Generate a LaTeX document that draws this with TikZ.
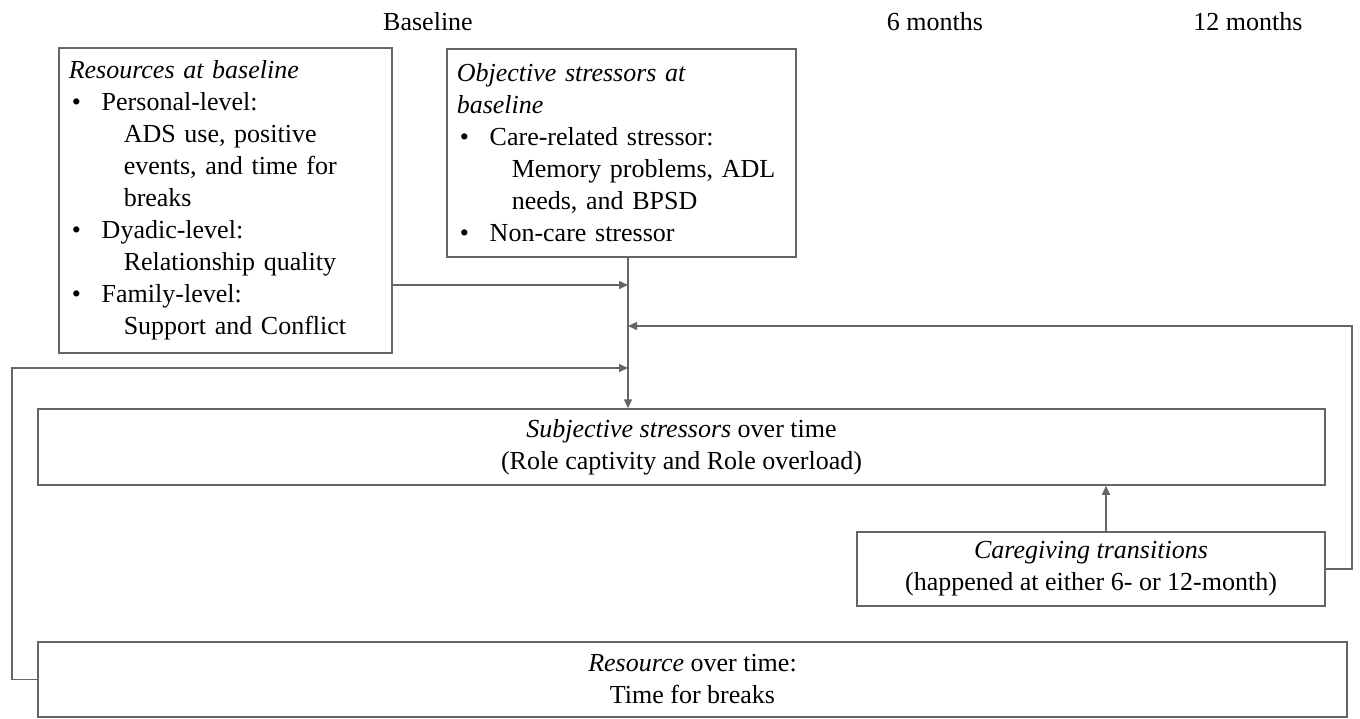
\documentclass[tikz,border=0pt]{standalone}
\usepackage{fontspec}
\setmainfont{Liberation Serif}
\usetikzlibrary{arrows.meta}

\definecolor{linegray}{HTML}{666666}
\newcommand{\bulline}[1]{\hspace*{3pt}\makebox[30pt][l]{\textbullet}#1}
\newcommand{\subline}[1]{\hspace*{55pt}#1}

\tikzset{
  box/.style={draw=linegray, line width=1.5pt, rectangle, inner sep=0pt},
  listbox/.style={box, anchor=north west, inner xsep=10pt, align=left},
  arr/.style={draw=linegray, line width=1.5pt, -{Triangle[length=9pt,width=8pt]}}
}

\begin{document}
\begin{tikzpicture}[x=1pt, y=-1pt, font=\fontsize{26}{32}\selectfont]
\useasboundingbox (0,0) rectangle (1360,718);

% time points
\node[anchor=base] (hbase) at (428,30) {Baseline};
\node[anchor=base] (hsix) at (935,30) {6 months};
\node[anchor=base] (htwelve) at (1248,30) {12 months};

% baseline boxes
\node[listbox, text width=313pt, minimum height=305pt] (resbase) at (58,47) {
    \textit{Resources at baseline}\\
    \bulline{Personal-level:}\\
    \subline{ADS use, positive}\\
    \subline{events, and time for}\\
    \subline{breaks}\\
    \bulline{Dyadic-level:}\\
    \subline{Relationship quality}\\
    \bulline{Family-level:}\\
    \subline{Support and Conflict}
};
\node[listbox, text width=329pt, minimum height=208pt] (objbase) at (446,48) {
    \textit{Objective stressors at}\\
    \textit{baseline}\\
    \bulline{Care-related stressor:}\\
    \subline{Memory problems, ADL}\\
    \subline{needs, and BPSD}\\
    \bulline{Non-care stressor}
};

% over time boxes
\node[box, minimum width=1287pt, minimum height=76pt, align=center] (subj) at (681.5,447)
    {\textit{Subjective stressors} over time\\(Role captivity and Role overload)};
\node[box, minimum width=468pt, minimum height=74pt, align=center] (trans) at (1091,569)
    {\textit{Caregiving transitions}\\(happened at either 6- or 12-month)};
\node[box, minimum width=1309pt, minimum height=75pt, align=center] (restime) at (692.5,679.5)
    {\textit{Resource} over time:\\Time for breaks};

% junctions
\coordinate (j1) at (628,285);
\coordinate (j2) at (628,326);
\coordinate (j3) at (628,368);
\coordinate (lloop) at (12,0);
\coordinate (rloop) at (1352,0);
\coordinate (tup) at (1106,0);

% connectors
\draw[arr] (objbase.south -| j1) -- (subj.north -| j1);
\draw[arr] (resbase.east |- j1) -- (j1);
\draw[arr] (trans.east) -- (trans.east -| rloop) |- (j2);
\draw[arr] (restime.west) -- (restime.west -| lloop) |- (j3);
\draw[arr] (trans.north -| tup) -- (subj.south -| tup);
\end{tikzpicture}
\end{document}
